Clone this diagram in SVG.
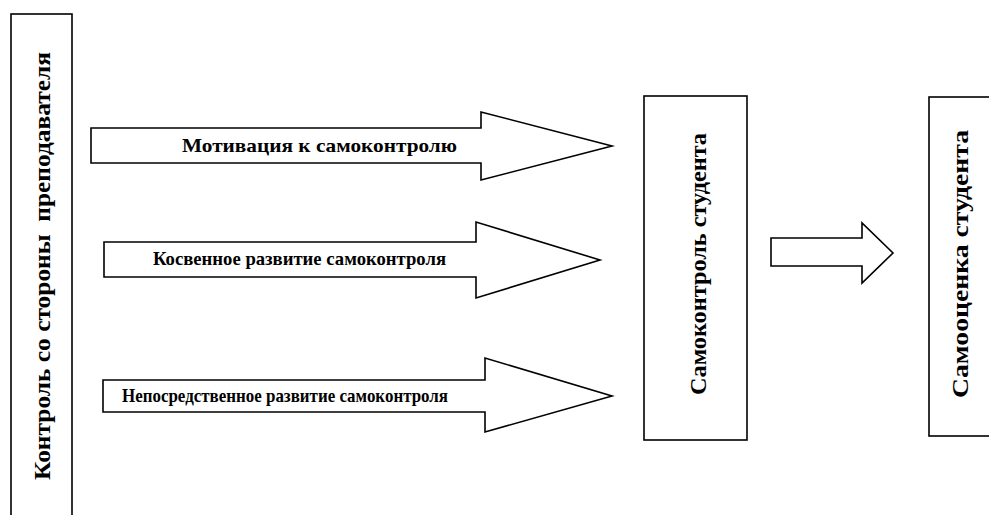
<svg xmlns="http://www.w3.org/2000/svg" width="989" height="515" viewBox="0 0 989 515">
<style>
.box{fill:#fff;stroke:#000;stroke-width:1.6}
.arr{fill:#fff;stroke:#000;stroke-width:1.6;stroke-linejoin:miter}
.t{font-family:"Liberation Serif","Times New Roman",serif;font-weight:bold;fill:#000}
.h{font-size:19px}
</style>
<rect width="989" height="515" fill="#fff"/>
<g id="teacher">
<rect class="box" x="11" y="14" width="61" height="510"/>
<text class="t" font-size="24" transform="translate(50,480) rotate(-90)" textLength="428" lengthAdjust="spacingAndGlyphs" xml:space="preserve">Контроль со стороны  преподавателя</text>
</g>
<g id="selfcontrol">
<rect class="box" x="644" y="96" width="103" height="344"/>
<text class="t" font-size="23" transform="translate(706,395) rotate(-90)" textLength="262" lengthAdjust="spacingAndGlyphs">Самоконтроль студента</text>
</g>
<g id="selfassessment">
<rect class="box" x="929" y="97" width="70" height="339"/>
<text class="t" font-size="24" transform="translate(968,398) rotate(-90)" textLength="268" lengthAdjust="spacingAndGlyphs">Самооценка студента</text>
</g>
<g id="connectors">
<g id="arrow1">
<polygon class="arr" points="91,128 481,128 481,112 612,146 481,180 481,163 91,163"/>
<text class="t h" x="182" y="152" textLength="275" lengthAdjust="spacingAndGlyphs">Мотивация к самоконтролю</text>
</g>
<g id="arrow2">
<polygon class="arr" points="104,242 476,242 476,222 600,260 476,298 476,277 104,277"/>
<text class="t h" x="153" y="265" textLength="293" lengthAdjust="spacingAndGlyphs">Косвенное развитие самоконтроля</text>
</g>
<g id="arrow3">
<polygon class="arr" points="103,380 485,380 485,358 612,396 485,432 485,412 103,412"/>
<text class="t h" x="122" y="402" textLength="326" lengthAdjust="spacingAndGlyphs">Непосредственное развитие самоконтроля</text>
</g>
<g id="arrow4">
<polygon class="arr" points="771,238 862,238 862,223 893,253 862,283 862,266 771,266"/>
</g>
</g>
</svg>
